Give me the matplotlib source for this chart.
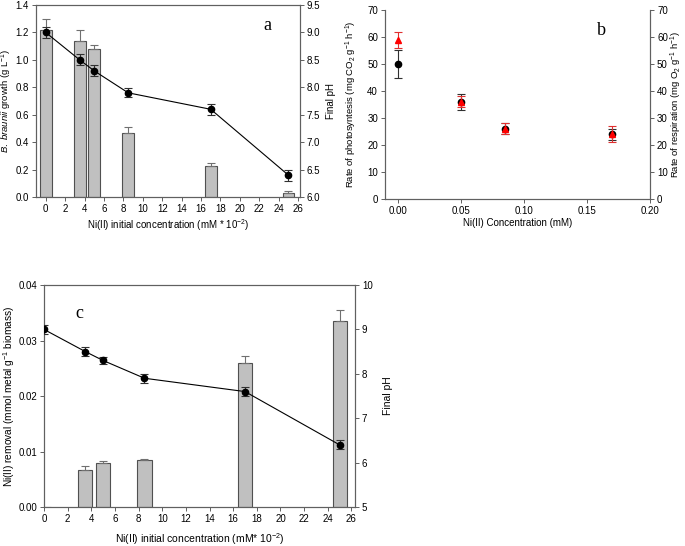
import numpy as np
import matplotlib
matplotlib.use('Agg')
import matplotlib.pyplot as plt
from matplotlib.ticker import FormatStrFormatter

plt.rcParams['font.family'] = ['Liberation Sans', 'DejaVu Sans']
plt.rcParams['mathtext.fontset'] = 'custom'
plt.rcParams['mathtext.rm'] = 'Liberation Sans'
plt.rcParams['mathtext.it'] = 'Liberation Sans:italic'
plt.rcParams['font.size'] = 7

# Data
conc = [0, 3.5, 5, 8.5, 17, 25]
growth = [1.22, 1.135, 1.08, 0.47, 0.23, 0.03]
growth_err = [0.08, 0.08, 0.03, 0.04, 0.015, 0.012]
ph = [9.0, 8.5, 8.3, 7.9, 7.6, 6.4]
ph_err = [0.1, 0.1, 0.1, 0.08, 0.1, 0.1]

conc_b = [0.0, 0.05, 0.085, 0.17]
photo = [50, 36, 26, 24]
photo_err = [5, 3, 2, 2]
resp = [59, 36, 26, 24]
resp_err = [3, 2, 2, 3]

removal = [0.0, 0.0067, 0.0080, 0.0085, 0.026, 0.0335]
removal_err = [0.0, 0.0006, 0.0003, 0.0002, 0.0012, 0.002]
ph_c = [9.0, 8.5, 8.3, 7.9, 7.6, 6.4]
ph_c_err = [0.1, 0.1, 0.08, 0.1, 0.1, 0.1]

spine_c = '#606060'
bar_c = '#c0c0c0'
bar_edge = '#505050'


def style(ax):
    for s in ax.spines.values():
        s.set_color(spine_c)
        s.set_linewidth(0.8)
    ax.tick_params(direction='out', length=3, width=0.7, color=spine_c, labelsize=7, pad=2)


fig = plt.figure(figsize=(6.85, 5.46), dpi=100)

# panel a
ax = fig.add_axes([0.0526, 0.639, 0.3854, 0.3518])
ax.bar(conc, growth, width=1.2, color=bar_c, edgecolor=bar_edge, linewidth=0.8, zorder=2)
ax.errorbar(conc, growth, yerr=[np.zeros(len(growth)), growth_err], fmt='none',
            ecolor='#707070', elinewidth=0.8, capsize=3, capthick=0.8, zorder=3)
ax.set_xlim(-1, 26.2)
ax.set_ylim(0, 1.4)
ax.set_xticks(np.arange(0, 27, 2))
ax.set_yticks(np.arange(0, 1.41, 0.2))
ax.yaxis.set_major_formatter(FormatStrFormatter('%.1f'))
ax.set_ylabel(r'$\mathit{B.\ braunii}$ growth (g L$^{-1}$)', fontsize=6.8)
ax.yaxis.set_label_coords(-0.082, 0.5)
ax.set_xlabel(r'Ni(II) initial concentration (mM * 10$^{-2}$)', fontsize=7)
ax.xaxis.set_label_coords(0.5, -0.105)
style(ax)
ax2 = ax.twinx()
ax2.errorbar(conc, ph, yerr=ph_err, color='black', marker='o', markersize=4.5,
             linewidth=0.8, ecolor='#303030', elinewidth=0.8, capsize=3, capthick=0.8, zorder=4)
ax2.set_ylim(6.0, 9.5)
ax2.set_yticks(np.arange(6.0, 9.51, 0.5))
ax2.yaxis.set_major_formatter(FormatStrFormatter('%.1f'))
ax2.set_ylabel('Final pH', fontsize=7)
ax2.yaxis.set_label_coords(1.10, 0.5)
style(ax2)
ax2.text(0.86, 0.87, 'a', transform=ax.transAxes, family='Liberation Serif', fontsize=13)

# panel b
bx = fig.add_axes([0.562, 0.6355, 0.387, 0.3462])
bx.errorbar(conc_b, photo, yerr=photo_err, fmt='o', color='black', markersize=4.5,
            ecolor='#303030', elinewidth=0.8, capsize=3, capthick=0.8, zorder=3)
bx.set_xlim(-0.0103, 0.2)
bx.set_ylim(0, 70)
bx.set_xticks(np.arange(0, 0.201, 0.05))
bx.xaxis.set_major_formatter(FormatStrFormatter('%.2f'))
bx.set_yticks(np.arange(0, 71, 10))
bx.set_ylabel(r'Rate of photosyntesis (mg CO$_2$ g$^{-1}$ h$^{-1}$)', fontsize=6.8)
bx.yaxis.set_label_coords(-0.098, 0.5)
bx.set_xlabel('Ni(II) Concentration (mM)', fontsize=7)
bx.xaxis.set_label_coords(0.5, -0.10)
bx.spines['top'].set_visible(False)
style(bx)
bx2 = bx.twinx()
bx2.errorbar(conc_b, resp, yerr=resp_err, fmt='^', color='red', markersize=4.5,
             ecolor='#e03030', elinewidth=0.8, capsize=3, capthick=0.8, zorder=4)
bx2.set_ylim(0, 70)
bx2.set_yticks(np.arange(0, 71, 10))
bx2.set_ylabel(r'Rate of respiration (mg O$_2$ g$^{-1}$ h$^{-1}$)', fontsize=6.8)
bx2.yaxis.set_label_coords(1.072, 0.5)
bx2.spines['top'].set_visible(False)
style(bx2)
bx2.text(0.8, 0.87, 'b', transform=bx.transAxes, family='Liberation Serif', fontsize=13)

# panel c
cx = fig.add_axes([0.0642, 0.0714, 0.454, 0.4066])
cx.bar(conc, removal, width=1.2, color=bar_c, edgecolor=bar_edge, linewidth=0.8, zorder=2)
cx.errorbar(conc[1:], removal[1:], yerr=[np.zeros(len(removal) - 1), removal_err[1:]], fmt='none',
            ecolor='#707070', elinewidth=0.8, capsize=3, capthick=0.8, zorder=3)
cx.set_xlim(0, 26.3)
cx.set_ylim(0, 0.04)
cx.set_xticks(np.arange(0, 27, 2))
cx.set_yticks(np.arange(0, 0.041, 0.01))
cx.yaxis.set_major_formatter(FormatStrFormatter('%.2f'))
cx.set_ylabel(r'Ni(II) removal (mmol metal g$^{-1}$ biomass)', fontsize=7.3)
cx.yaxis.set_label_coords(-0.088, 0.5)
cx.set_xlabel(r'Ni(II) initial concentration (mM* 10$^{-2}$)', fontsize=7.5)
cx.xaxis.set_label_coords(0.5, -0.11)
style(cx)
cx2 = cx.twinx()
cx2.errorbar(conc, ph_c, yerr=ph_c_err, color='black', marker='o', markersize=4.5,
             linewidth=0.8, ecolor='#303030', elinewidth=0.8, capsize=3, capthick=0.8, zorder=4)
cx2.set_ylim(5, 10)
cx2.set_yticks(np.arange(5, 10.1, 1))
cx2.set_ylabel('Final pH', fontsize=7.5)
cx2.yaxis.set_label_coords(1.09, 0.5)
style(cx2)
cx2.text(0.1, 0.85, 'c', transform=cx.transAxes, family='Liberation Serif', fontsize=13)

fig.savefig('out.png', dpi=100)
